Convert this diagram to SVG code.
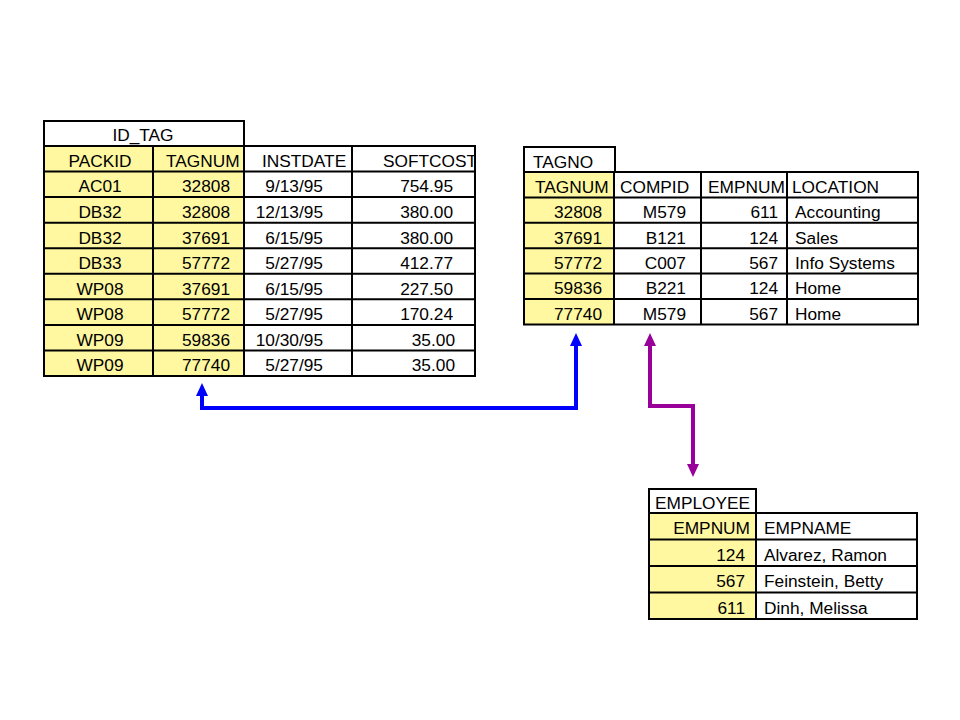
<svg xmlns="http://www.w3.org/2000/svg" width="960" height="720" viewBox="0 0 960 720">
<style>
text{font-family:"Liberation Sans",Arial,sans-serif;font-size:17.3px;fill:#000}
.e{text-anchor:end}
.m{text-anchor:middle}
.g{stroke:#000;stroke-width:2;fill:none}
.y{fill:#FFF8A0;stroke:none}
</style>
<defs>
<marker id="ab" markerUnits="userSpaceOnUse" markerWidth="13" markerHeight="12" refX="0" refY="6" orient="auto-start-reverse"><path d="M0,0 L13,6 L0,12 Z" fill="#0000FF"/></marker>
<marker id="ap" markerUnits="userSpaceOnUse" markerWidth="13" markerHeight="12" refX="0" refY="6" orient="auto-start-reverse"><path d="M0,0 L13,6 L0,12 Z" fill="#990099"/></marker>
<clipPath id="sc"><rect x="352" y="146" width="122" height="26"/></clipPath>
</defs>
<rect width="960" height="720" fill="#FFFFFF"/>

<g id="id_tag">
<rect class="y" x="44" y="146" width="200" height="230"/>
<path class="g" d="M44,121 H244 M44,146 H475 M44,171.6 H475 M44,197.1 H475 M44,222.7 H475 M44,248.2 H475 M44,273.8 H475 M44,299.3 H475 M44,324.9 H475 M44,350.4 H475 M44,376 H475 M44,120 V377 M244,120 V376 M153,146 V376 M352,146 V376 M475,145 V377"/>
<text class="m" x="143" y="141">ID_TAG</text>
<text class="m" x="100" y="167">PACKID</text>
<text x="166" y="167">TAGNUM</text>
<text x="262" y="167">INSTDATE</text>
<text x="383" y="167" clip-path="url(#sc)">SOFTCOST</text>
<text class="m" x="100" y="192.4">AC01</text><text class="e" x="230" y="192.4">32808</text><text class="e" x="323" y="192.4">9/13/95</text><text class="e" x="453" y="192.4">754.95</text>
<text class="m" x="100" y="217.9">DB32</text><text class="e" x="230" y="217.9">32808</text><text class="e" x="323" y="217.9">12/13/95</text><text class="e" x="453" y="217.9">380.00</text>
<text class="m" x="100" y="243.5">DB32</text><text class="e" x="230" y="243.5">37691</text><text class="e" x="323" y="243.5">6/15/95</text><text class="e" x="453" y="243.5">380.00</text>
<text class="m" x="100" y="269">DB33</text><text class="e" x="230" y="269">57772</text><text class="e" x="323" y="269">5/27/95</text><text class="e" x="453" y="269">412.77</text>
<text class="m" x="100" y="294.6">WP08</text><text class="e" x="230" y="294.6">37691</text><text class="e" x="323" y="294.6">6/15/95</text><text class="e" x="453" y="294.6">227.50</text>
<text class="m" x="100" y="320.2">WP08</text><text class="e" x="230" y="320.2">57772</text><text class="e" x="323" y="320.2">5/27/95</text><text class="e" x="453" y="320.2">170.24</text>
<text class="m" x="100" y="345.7">WP09</text><text class="e" x="230" y="345.7">59836</text><text class="e" x="323" y="345.7">10/30/95</text><text class="e" x="455" y="345.7">35.00</text>
<text class="m" x="100" y="371.3">WP09</text><text class="e" x="230" y="371.3">77740</text><text class="e" x="323" y="371.3">5/27/95</text><text class="e" x="455" y="371.3">35.00</text>
</g>

<g id="tagno">
<rect class="y" x="524" y="172" width="90" height="152.4"/>
<path class="g" d="M524,147 H615 M524,172 H918 M524,197.4 H918 M524,222.8 H918 M524,248.2 H918 M524,273.6 H918 M524,299 H918 M524,324.4 H918 M524,146 V325.4 M615,146 V172 M614,172 V324.4 M701,172 V324.4 M787,172 V324.4 M918,171 V325.4"/>
<text x="533" y="167.5">TAGNO</text>
<text x="535" y="192.7">TAGNUM</text>
<text x="620" y="192.7">COMPID</text>
<text x="708" y="192.7">EMPNUM</text>
<text x="792" y="192.7">LOCATION</text>
<text class="e" x="602" y="218.1">32808</text><text class="e" x="686" y="218.1">M579</text><text class="e" x="778" y="218.1">611</text><text x="795" y="218.1">Accounting</text>
<text class="e" x="602" y="243.5">37691</text><text class="e" x="686" y="243.5">B121</text><text class="e" x="778" y="243.5">124</text><text x="795" y="243.5">Sales</text>
<text class="e" x="602" y="268.9">57772</text><text class="e" x="686" y="268.9">C007</text><text class="e" x="778" y="268.9">567</text><text x="795" y="268.9">Info Systems</text>
<text class="e" x="602" y="294.3">59836</text><text class="e" x="686" y="294.3">B221</text><text class="e" x="778" y="294.3">124</text><text x="795" y="294.3">Home</text>
<text class="e" x="602" y="319.7">77740</text><text class="e" x="686" y="319.7">M579</text><text class="e" x="778" y="319.7">567</text><text x="795" y="319.7">Home</text>
</g>

<g id="employee">
<rect class="y" x="649" y="513" width="107" height="106"/>
<path class="g" d="M649,489 H756 M649,513 H917 M649,539.5 H917 M649,566 H917 M649,592.5 H917 M649,619 H917 M649,488 V620 M756,488 V619 M917,512 V620"/>
<text x="655" y="508.5">EMPLOYEE</text>
<text class="e" x="750" y="534">EMPNUM</text>
<text x="764" y="534">EMPNAME</text>
<text class="e" x="745" y="560.8">124</text><text x="764" y="560.8">Alvarez, Ramon</text>
<text class="e" x="745" y="587.3">567</text><text x="764" y="587.3">Feinstein, Betty</text>
<text class="e" x="745" y="613.8">611</text><text x="764" y="613.8">Dinh, Melissa</text>
</g>

<g id="connectors">
<path d="M576,346 V408 H202 V396" fill="none" stroke="#0000FF" stroke-width="4" marker-start="url(#ab)" marker-end="url(#ab)"/>
<path d="M650,346 V406 H693 V464" fill="none" stroke="#990099" stroke-width="4" marker-start="url(#ap)" marker-end="url(#ap)"/>
</g>
</svg>
